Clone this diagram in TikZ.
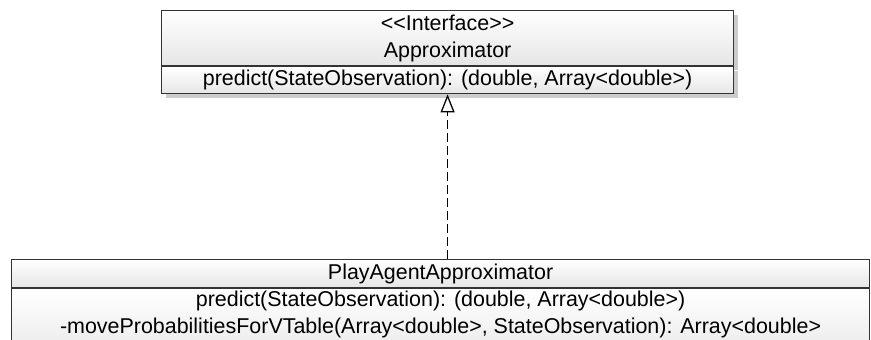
\documentclass[tikz,border=0pt]{standalone}
\usepackage{fontspec}
\setmainfont[Ligatures=TeXOff]{Liberation Sans}
\usetikzlibrary{arrows.meta,positioning,shadows,calc}

\begin{document}
\begin{tikzpicture}[node distance=0cm,
    font=\fontsize{18.3pt}{23pt}\selectfont,
    part/.style={draw=black!80, line width=1pt, top color=white, bottom color=black!10, inner sep=0pt, align=center},
    shade/.style={drop shadow={shadow xshift=0.12cm, shadow yshift=-0.12cm, opacity=0.2, fill=black}}]
    \useasboundingbox (0,0) rectangle (26.13,-10.2);
    \clip (0,0) rectangle (26.13,-10.2);

    % interface
    \node (IHead) [part, shade, minimum width=17.16cm, minimum height=1.65cm, anchor=north west] at (4.83,-0.3)
        {<<Interface>>\\ Approximator};
    \node (IMeth) [part, shade, minimum width=17.16cm, minimum height=0.81cm, below=of IHead] {predict(StateObservation): (double, Array<double>)};

    % implementing class
    \node (CHead) [part, minimum width=25.74cm, minimum height=0.84cm, anchor=north west] at (0.33,-7.77) {PlayAgentApproximator};
    \node (CMeth) [part, minimum width=25.74cm, minimum height=2.4cm, below=of CHead] {};
    \node (CM1) at ($(CMeth.north)+(0,-0.39)$) {predict(StateObservation): (double, Array<double>)};
    \node (CM2) at ($(CM1)+(0,-0.81)$) {-moveProbabilitiesForVTable(Array<double>, StateObservation): Array<double>};

    \draw[dash pattern=on 0.27cm off 0.12cm, line width=1.1pt, -{Triangle[open, length=0.54cm, width=0.42cm]}]
        (CHead.north -| IMeth.south) -- (IMeth.south);
\end{tikzpicture}
\end{document}
